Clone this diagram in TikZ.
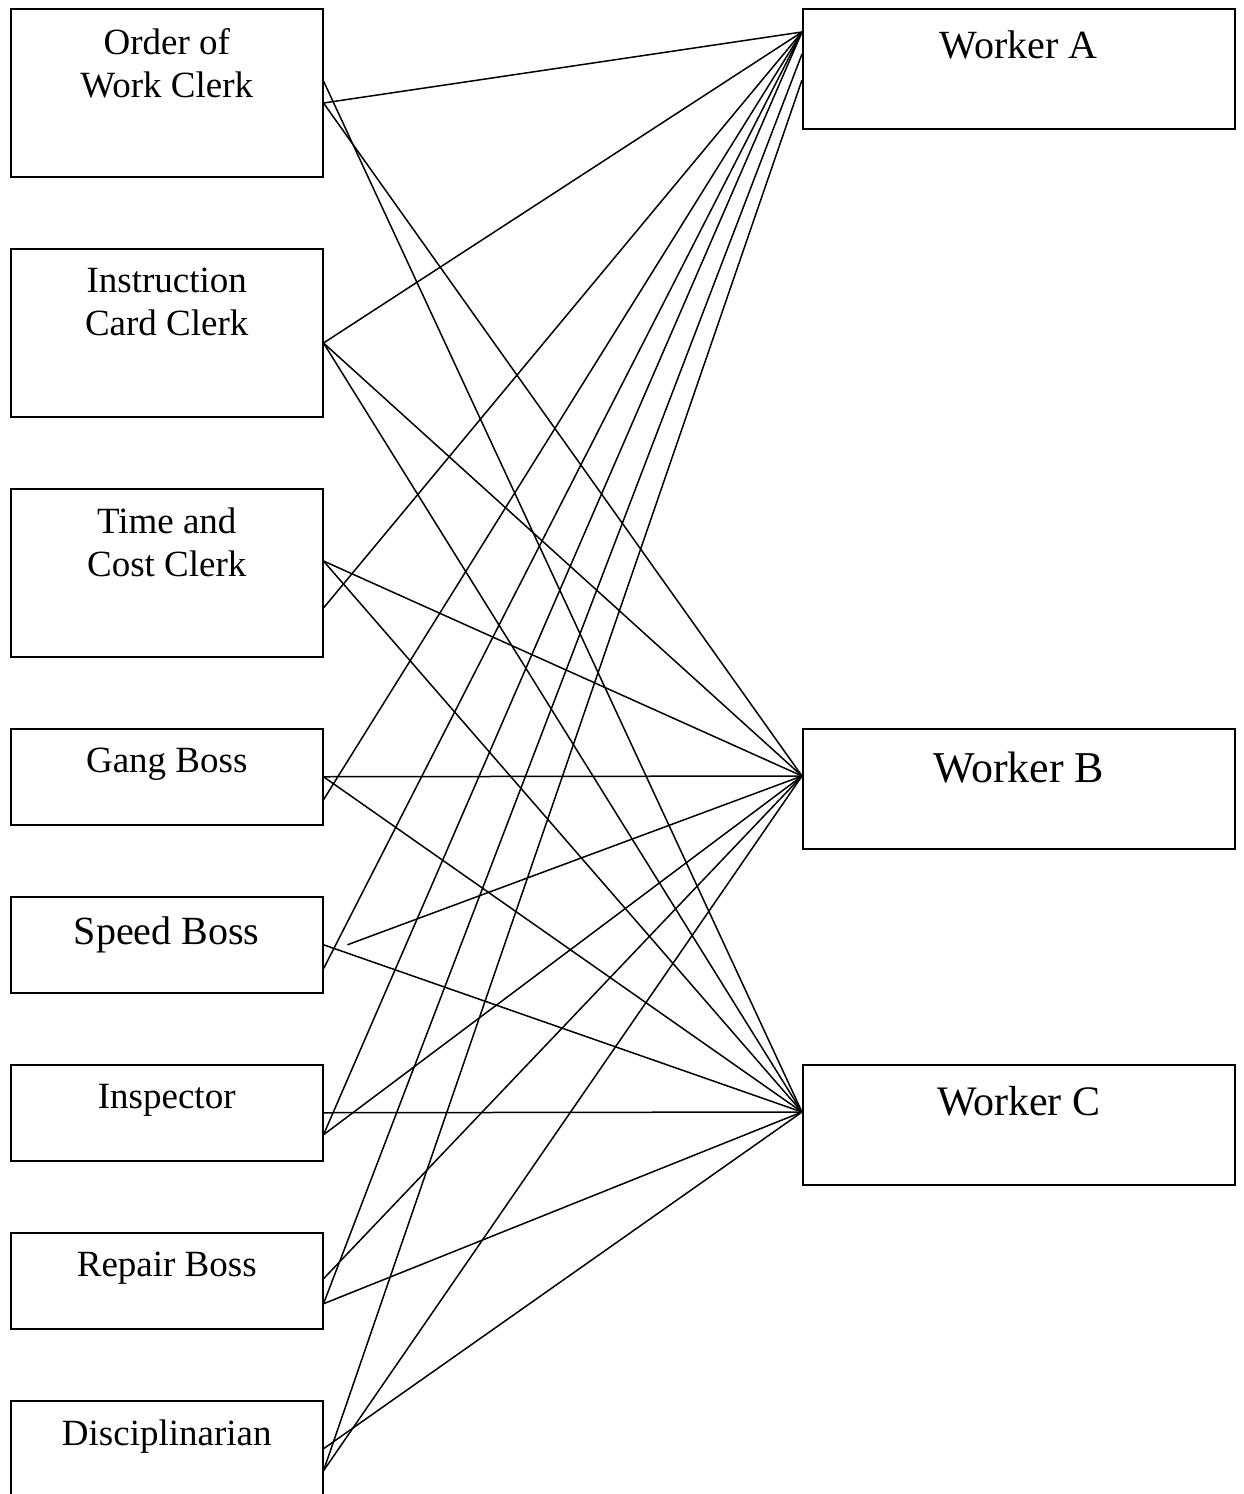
\documentclass[tikz,border=0pt]{standalone}
\usepackage{fontspec}
\setmainfont{Liberation Serif}
\usetikzlibrary{calc}
\begin{document}
\begin{tikzpicture}[x=1pt,y=-1pt,
                        boss/.style={shape=rectangle,draw,line width=1.5pt,minimum width=312pt,minimum height=96pt,anchor=north west,inner sep=0pt},
                        clerk/.style={boss,minimum height=168pt},
                        worker/.style={shape=rectangle,draw,line width=1.5pt,minimum width=432pt,minimum height=120pt,anchor=north west,inner sep=0pt},
                        lbl/.style={anchor=north,inner sep=0pt,align=center,font=\fontsize{37}{43}\selectfont},
                        link/.style={line width=1.5pt}]
                        \useasboundingbox (0,0) rectangle (1243,1494);
                        % functional foremen
                        \node[clerk] at (10,8) (owc) {};
                        \node[clerk] at (10,248) (icc) {};
                        \node[clerk] at (10,488) (tcc) {};
                        \node[boss] at (10,728) (gb) {};
                        \node[boss] at (10,896) (sb) {};
                        \node[boss] at (10,1064) (insp) {};
                        \node[boss] at (10,1232) (rb) {};
                        \node[boss] at (10,1400) (disc) {};
                        \node[lbl] at ($(owc.north)+(0,20)$) (owc-t) {Order of\\Work Clerk};
                        \node[lbl] at ($(icc.north)+(0,20)$) (icc-t) {Instruction\\Card Clerk};
                        \node[lbl] at ($(tcc.north)+(0,20)$) (tcc-t) {Time and\\Cost Clerk};
                        \node[lbl] at ($(gb.north)+(0,20)$) (gb-t) {Gang Boss};
                        \node[lbl,font=\fontsize{40}{46}\selectfont] at ($(sb.north)+(0,21)$) (sb-t) {Speed Boss};
                        \node[lbl] at ($(insp.north)+(0,20)$) (insp-t) {Inspector};
                        \node[lbl] at ($(rb.north)+(0,20)$) (rb-t) {Repair Boss};
                        \node[lbl] at ($(disc.north)+(0,20)$) (disc-t) {Disciplinarian};
                        % workers
                        \node[worker] at (802,8) (wa) {};
                        \node[worker] at (802,728) (wb) {};
                        \node[worker] at (802,1064) (wc) {};
                        \node[lbl,font=\fontsize{40}{46}\selectfont] at ($(wa.north)+(0,23)$) (wa-t) {Worker A};
                        \node[lbl,font=\fontsize{44}{50}\selectfont] at ($(wb.north)+(0,24)$) (wb-t) {Worker B};
                        \node[lbl,font=\fontsize{42}{48}\selectfont] at ($(wc.north)+(0,22)$) (wc-t) {Worker C};
                        % ports
                        \coordinate (owc-ab) at ($(owc.north east)+(0,95)$);
                        \coordinate (owc-c) at ($(owc.north east)+(0,73)$);
                        \coordinate (icc-abc) at ($(icc.north east)+(0,95)$);
                        \coordinate (tcc-bc) at ($(tcc.north east)+(0,73)$);
                        \coordinate (tcc-a) at ($(tcc.north east)+(0,120)$);
                        \coordinate (gb-a) at ($(gb.east)+(0,23)$);
                        \coordinate (sb-a) at ($(sb.east)+(0,24)$);
                        \coordinate (sb-b) at ($(sb.east)+(24,0)$);
                        \coordinate (insp-ab) at ($(insp.east)+(0,22)$);
                        \coordinate (rb-b) at ($(rb.east)+(0,-2)$);
                        \coordinate (rb-ac) at ($(rb.east)+(0,23)$);
                        \coordinate (disc-ab) at ($(disc.east)+(0,22)$);
                        \coordinate (wa-in) at ($(wa.north west)+(0,24)$);
                        \coordinate (wa-rb) at ($(wa.north west)+(0,46)$);
                        \coordinate (wa-disc) at ($(wa.north west)+(0,72)$);
                        \coordinate (wb-in) at ($(wb.north west)+(0,48)$);
                        \coordinate (wc-in) at ($(wc.north west)+(0,48)$);
                        % links
                        \draw[link] (owc-ab) -- (wa-in);
                        \draw[link] (owc-ab) -- (wb-in);
                        \draw[link] (owc-c) -- (wc-in);
                        \draw[link] (icc-abc) -- (wa-in);
                        \draw[link] (icc-abc) -- (wb-in);
                        \draw[link] (icc-abc) -- (wc-in);
                        \draw[link] (tcc-a) -- (wa-in);
                        \draw[link] (tcc-bc) -- (wb-in);
                        \draw[link] (tcc-bc) -- (wc-in);
                        \draw[link] (gb-a) -- (wa-in);
                        \draw[link] (gb.east) -- (wb-in);
                        \draw[link] (gb.east) -- (wc-in);
                        \draw[link] (sb-a) -- (wa-in);
                        \draw[link] (sb-b) -- (wb-in);
                        \draw[link] (sb.east) -- (wc-in);
                        \draw[link] (insp-ab) -- (wa-in);
                        \draw[link] (insp-ab) -- (wb-in);
                        \draw[link] (insp.east) -- (wc-in);
                        \draw[link] (rb-ac) -- (wa-rb);
                        \draw[link] (rb-b) -- (wb-in);
                        \draw[link] (rb-ac) -- (wc-in);
                        \draw[link] (disc-ab) -- (wa-disc);
                        \draw[link] (disc-ab) -- (wb-in);
                        \draw[link] (disc.east) -- (wc-in);
                \end{tikzpicture}
\end{document}
